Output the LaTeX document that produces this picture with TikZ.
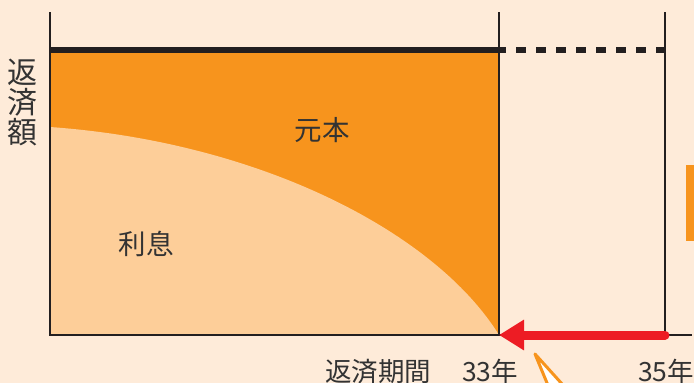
\documentclass[tikz,border=0pt]{standalone}
\usepackage{fontspec}
\newfontfamily\jp{Noto Sans CJK JP}
\usetikzlibrary{positioning,arrows.meta}
\definecolor{bgpeach}{HTML}{FEEBD9}
\definecolor{principal}{HTML}{F7941D}
\definecolor{interest}{HTML}{FDCE99}
\definecolor{axisink}{HTML}{231F20}
\definecolor{textink}{HTML}{333333}
\definecolor{arrowred}{HTML}{ED1C24}

\begin{document}
\begin{tikzpicture}[x=1pt, y=-1pt, >=Stealth,
        axis/.style={draw=axisink, line width=1.5pt},
        label/.style={font=\jp\fontsize{27.5}{30}\selectfont, text=textink, inner sep=0pt},
        bottomlabel/.style={label, font=\jp\fontsize{26.5}{30}\selectfont, anchor=base}]
        % background and page margins
        \fill[bgpeach] (0,0) rectangle (694,383);
        \useasboundingbox (0,0) rectangle (694,383);

        % key points of the chart
        \coordinate (O) at (50,335);
        \coordinate (T33) at (499,335);
        \coordinate (T35) at (665,335);

        % principal and interest areas
        \fill[principal] (50,53) rectangle (499,335);
        \fill[interest] (50,127) .. controls (260,142) and (435,232) .. (T33) -- (O) -- cycle;

        % axes and guide lines
        \draw[axis] (50,12) -- (O) -- (692,335);
        \draw[axis] (499,12) -- (T33);
        \draw[axis] (665,12) -- (T35);

        % repayment level
        \draw[axisink, line width=6pt] (50,50) -- (506,50);
        \draw[axisink, line width=6pt, dash pattern=on 10pt off 10pt, dash phase=10pt] (506,50) -- (666,50);

        % shortened term arrow
        \draw[arrowred, line width=9pt, line cap=round, -{Triangle[length=25pt, width=29pt]}] (T35) -- (T33);

        % callout tail and side tab
        \filldraw[fill=white, draw=principal, line width=3pt, line join=round] (552,395) -- (535,354) -- (572,395);
        \fill[principal] (686,165) rectangle (694,241);

        % labels
        \node[label] (gansei) at (322,130) {元本};
        \node[label] (risoku) at (146,244) {利息};
        \node[label, font=\jp\fontsize{30}{30}\selectfont, align=center] (hensaigaku) at (22,102) {返\\済\\額};
        \node[bottomlabel] (kikan) at (378,381) {返済期間};
        \node[bottomlabel] (y33) at (490,381) {33年};
        \node[bottomlabel] (y35) at (666,381) {35年};
    \end{tikzpicture}
\end{document}
